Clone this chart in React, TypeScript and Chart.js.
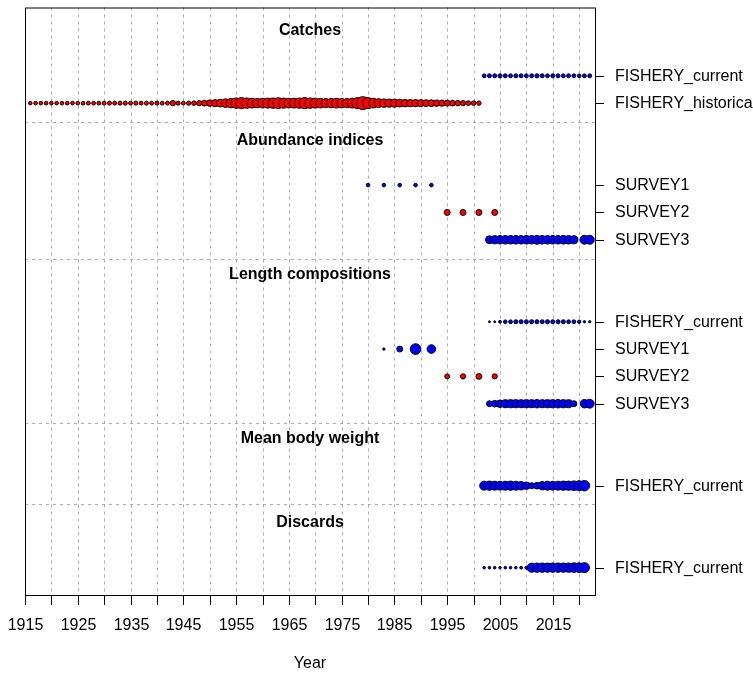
import React, { useEffect, useRef } from "react";
import { Chart, registerables } from "chart.js";

Chart.register(...registerables);

// ---------- axis definitions ----------
const X_MIN = 1915;
const X_MAX = 2023;
const X_TICKS = [1915, 1920, 1925, 1930, 1935, 1940, 1945, 1950, 1955, 1960, 1965, 1970, 1975, 1980, 1985, 1990, 1995, 2000, 2005, 2010, 2015, 2020];
const X_TICK_LABELS = ["1915", "", "1925", "", "1935", "", "1945", "", "1955", "", "1965", "", "1975", "", "1985", "", "1995", "", "2005", "", "2015", ""];
const X_TITLE = "Year";

const Y_MIN = 0;
const Y_MAX = 21.5;

// rows on the right-hand axis
const ROW_LABELS = ["FISHERY_current", "FISHERY_historical", "SURVEY1", "SURVEY2", "SURVEY3", "FISHERY_current", "SURVEY1", "SURVEY2", "SURVEY3", "FISHERY_current", "FISHERY_current"];
const ROW_Y = [19, 18, 15, 14, 13, 10, 9, 8, 7, 4, 1];

const GROUP_TITLES = ["Catches", "Abundance indices", "Length compositions", "Mean body weight", "Discards"];
const GROUP_TITLE_Y = [20.66, 16.63, 11.72, 5.72, 2.66];
const GROUP_SEPARATOR_Y = [17.3, 12.3, 6.31, 3.32];

// ---------- data: years and relative bubble magnitudes ----------
// Catches
const catchHistYears = [1916, 1917, 1918, 1919, 1920, 1921, 1922, 1923, 1924, 1925, 1926, 1927, 1928, 1929, 1930, 1931, 1932, 1933, 1934, 1935, 1936, 1937, 1938, 1939, 1940, 1941, 1942, 1943, 1944, 1945, 1946, 1947, 1948, 1949, 1950, 1951, 1952, 1953, 1954, 1955, 1956, 1957, 1958, 1959, 1960, 1961, 1962, 1963, 1964, 1965, 1966, 1967, 1968, 1969, 1970, 1971, 1972, 1973, 1974, 1975, 1976, 1977, 1978, 1979, 1980, 1981, 1982, 1983, 1984, 1985, 1986, 1987, 1988, 1989, 1990, 1991, 1992, 1993, 1994, 1995, 1996, 1997, 1998, 1999, 2000, 2001];
const catchHistValues = [0.27, 0.28, 0.28, 0.29, 0.28, 0.27, 0.28, 0.29, 0.28, 0.28, 0.29, 0.3, 0.29, 0.3, 0.3, 0.31, 0.3, 0.31, 0.31, 0.3, 0.31, 0.3, 0.31, 0.3, 0.31, 0.3, 0.3, 0.42, 0.31, 0.3, 0.33, 0.35, 0.4, 0.45, 0.5, 0.55, 0.6, 0.66, 0.72, 0.8, 0.86, 0.8, 0.75, 0.72, 0.74, 0.77, 0.8, 0.84, 0.78, 0.74, 0.76, 0.8, 0.86, 0.8, 0.76, 0.73, 0.7, 0.72, 0.75, 0.72, 0.7, 0.76, 0.86, 1.0, 0.85, 0.74, 0.68, 0.65, 0.62, 0.62, 0.6, 0.58, 0.56, 0.56, 0.55, 0.53, 0.52, 0.5, 0.48, 0.46, 0.44, 0.42, 0.4, 0.37, 0.35, 0.34];
const catchCurYears = [2002, 2003, 2004, 2005, 2006, 2007, 2008, 2009, 2010, 2011, 2012, 2013, 2014, 2015, 2016, 2017, 2018, 2019, 2020, 2021, 2022];
const catchCurValues = [0.3, 0.31, 0.31, 0.32, 0.31, 0.3, 0.31, 0.31, 0.3, 0.31, 0.32, 0.31, 0.3, 0.31, 0.31, 0.3, 0.31, 0.3, 0.29, 0.3, 0.3];

// Abundance indices
const idxS1Years = [1980, 1983, 1986, 1989, 1992];
const idxS1Values = [0.28, 0.28, 0.28, 0.28, 0.28];
const idxS2Years = [1995, 1998, 2001, 2004];
const idxS2Values = [0.46, 0.46, 0.46, 0.46];
const idxS3Years = [2003, 2004, 2005, 2006, 2007, 2008, 2009, 2010, 2011, 2012, 2013, 2014, 2015, 2016, 2017, 2018, 2019, 2021, 2022];
const idxS3Values = [0.6, 0.63, 0.65, 0.66, 0.65, 0.66, 0.65, 0.66, 0.65, 0.68, 0.66, 0.65, 0.66, 0.65, 0.66, 0.65, 0.62, 0.68, 0.69];

// Length compositions
const lenFCYears = [2003, 2004, 2005, 2006, 2007, 2008, 2009, 2010, 2011, 2012, 2013, 2014, 2015, 2016, 2017, 2018, 2019, 2020, 2021, 2022];
const lenFCValues = [0.15, 0.15, 0.22, 0.28, 0.29, 0.31, 0.31, 0.31, 0.32, 0.31, 0.31, 0.32, 0.31, 0.31, 0.31, 0.29, 0.29, 0.26, 0.18, 0.18];
const lenS1Years = [1983, 1986, 1989, 1992];
const lenS1Values = [0.18, 0.46, 0.82, 0.66];
const lenS2Years = [1995, 1998, 2001, 2004];
const lenS2Values = [0.38, 0.4, 0.45, 0.4];
const lenS3Years = [2003, 2004, 2005, 2006, 2007, 2008, 2009, 2010, 2011, 2012, 2013, 2014, 2015, 2016, 2017, 2018, 2019, 2021, 2022];
const lenS3Values = [0.45, 0.51, 0.58, 0.62, 0.63, 0.63, 0.62, 0.63, 0.62, 0.65, 0.62, 0.63, 0.63, 0.65, 0.63, 0.62, 0.46, 0.65, 0.68];

// Mean body weight
const mbwFCYears = [2002, 2003, 2004, 2005, 2006, 2007, 2008, 2009, 2010, 2011, 2012, 2013, 2014, 2015, 2016, 2017, 2018, 2019, 2020, 2021];
const mbwFCValues = [0.69, 0.71, 0.69, 0.68, 0.69, 0.71, 0.69, 0.66, 0.58, 0.46, 0.51, 0.65, 0.69, 0.68, 0.69, 0.71, 0.71, 0.74, 0.77, 0.8];

// Discards
const discFCYears = [2002, 2003, 2004, 2005, 2006, 2007, 2008, 2009, 2010, 2011, 2012, 2013, 2014, 2015, 2016, 2017, 2018, 2019, 2020, 2021];
const discFCValues = [0.2, 0.2, 0.2, 0.2, 0.2, 0.2, 0.2, 0.22, 0.24, 0.7, 0.71, 0.72, 0.71, 0.72, 0.72, 0.71, 0.72, 0.74, 0.75, 0.77];

const BLUE = "#0000FF";
const RED = "#FF0000";
const SERIES = [
  { years: catchCurYears, values: catchCurValues, row: 19, color: BLUE },
  { years: catchHistYears, values: catchHistValues, row: 18, color: RED },
  { years: idxS1Years, values: idxS1Values, row: 15, color: BLUE },
  { years: idxS2Years, values: idxS2Values, row: 14, color: RED },
  { years: idxS3Years, values: idxS3Values, row: 13, color: BLUE },
  { years: lenFCYears, values: lenFCValues, row: 10, color: BLUE },
  { years: lenS1Years, values: lenS1Values, row: 9, color: BLUE },
  { years: lenS2Years, values: lenS2Values, row: 8, color: RED },
  { years: lenS3Years, values: lenS3Values, row: 7, color: BLUE },
  { years: mbwFCYears, values: mbwFCValues, row: 4, color: BLUE },
  { years: discFCYears, values: discFCValues, row: 1, color: BLUE },
];

const MAX_RADIUS = 6.5;
const FONT = "'Liberation Sans', Arial, Helvetica, sans-serif";
const GRID_COLOR = "#ABABAB";

const framePlugin = {
  id: "framePlugin",
  beforeDatasetsDraw(chart: any) {
    const { ctx, chartArea: a, scales } = chart;
    const x = scales.x;
    const y = scales.y;
    ctx.save();
    ctx.strokeStyle = GRID_COLOR;
    ctx.lineWidth = 1;
    ctx.setLineDash([3, 4]);
    for (const t of X_TICKS) {
      if (t === X_MIN) continue;
      const px = Math.round(x.getPixelForValue(t)) + 0.5;
      ctx.beginPath();
      ctx.moveTo(px, a.top);
      ctx.lineTo(px, a.bottom);
      ctx.stroke();
    }
    for (const s of GROUP_SEPARATOR_Y) {
      const py = Math.round(y.getPixelForValue(s)) + 0.5;
      ctx.beginPath();
      ctx.moveTo(a.left, py);
      ctx.lineTo(a.right, py);
      ctx.stroke();
    }
    ctx.restore();
  },
  afterDraw(chart: any) {
    const { ctx, chartArea: a, scales } = chart;
    const x = scales.x;
    const y = scales.y;
    ctx.save();
    ctx.setLineDash([]);
    ctx.strokeStyle = "#000";
    ctx.lineWidth = 1;
    // box
    ctx.strokeRect(a.left + 0.5, a.top + 0.5, a.right - a.left, a.bottom - a.top);
    // x ticks and labels
    ctx.fillStyle = "#000";
    ctx.font = `16px ${FONT}`;
    ctx.textAlign = "center";
    ctx.textBaseline = "middle";
    X_TICKS.forEach((t, i) => {
      const px = Math.round(x.getPixelForValue(t)) + 0.5;
      ctx.beginPath();
      ctx.moveTo(px, a.bottom);
      ctx.lineTo(px, a.bottom + 10);
      ctx.stroke();
      if (X_TICK_LABELS[i]) ctx.fillText(X_TICK_LABELS[i], px, a.bottom + 31);
    });
    ctx.fillText(X_TITLE, (a.left + a.right) / 2, a.bottom + 69);
    // right axis ticks & labels
    ctx.textAlign = "left";
    ROW_Y.forEach((r, i) => {
      const py = Math.round(y.getPixelForValue(r)) + 0.5;
      ctx.beginPath();
      ctx.moveTo(a.right, py);
      ctx.lineTo(a.right + 9, py);
      ctx.stroke();
      ctx.fillText(ROW_LABELS[i], a.right + 20, py + 0.5);
    });
    // group titles
    ctx.font = `bold 16px ${FONT}`;
    ctx.textAlign = "center";
    GROUP_TITLES.forEach((g, i) => {
      ctx.fillText(g, (a.left + a.right) / 2, y.getPixelForValue(GROUP_TITLE_Y[i]));
    });
    ctx.restore();
  },
};

export default function App() {
  const canvasRef = useRef<HTMLCanvasElement | null>(null);

  useEffect(() => {
    if (!canvasRef.current) return;
    const datasets = SERIES.map((s) => ({
      data: s.years.map((yr, i) => ({ x: yr, y: s.row, r: MAX_RADIUS * s.values[i] })),
      backgroundColor: s.color,
      borderColor: "#000000",
      borderWidth: 1,
      hoverRadius: 0,
      hoverBorderWidth: 1,
      clip: false as any,
    }));
    const chart = new Chart(canvasRef.current, {
      type: "bubble",
      data: { datasets },
      options: {
        responsive: false,
        animation: false,
        events: [],
        layout: { padding: { left: 25, right: 158, top: 6, bottom: 80 } },
        scales: {
          x: { type: "linear", min: X_MIN, max: X_MAX, display: false },
          y: { type: "linear", min: Y_MIN, max: Y_MAX, display: false },
        },
        plugins: { legend: { display: false }, tooltip: { enabled: false } },
      },
      plugins: [framePlugin],
    });
    return () => chart.destroy();
  }, []);

  return (
    <div style={{ position: "absolute", left: 0, top: 0, width: 753, height: 675, background: "#fff" }}>
      <canvas ref={canvasRef} width={753} height={675} style={{ width: 753, height: 675, display: "block" }} />
    </div>
  );
}
